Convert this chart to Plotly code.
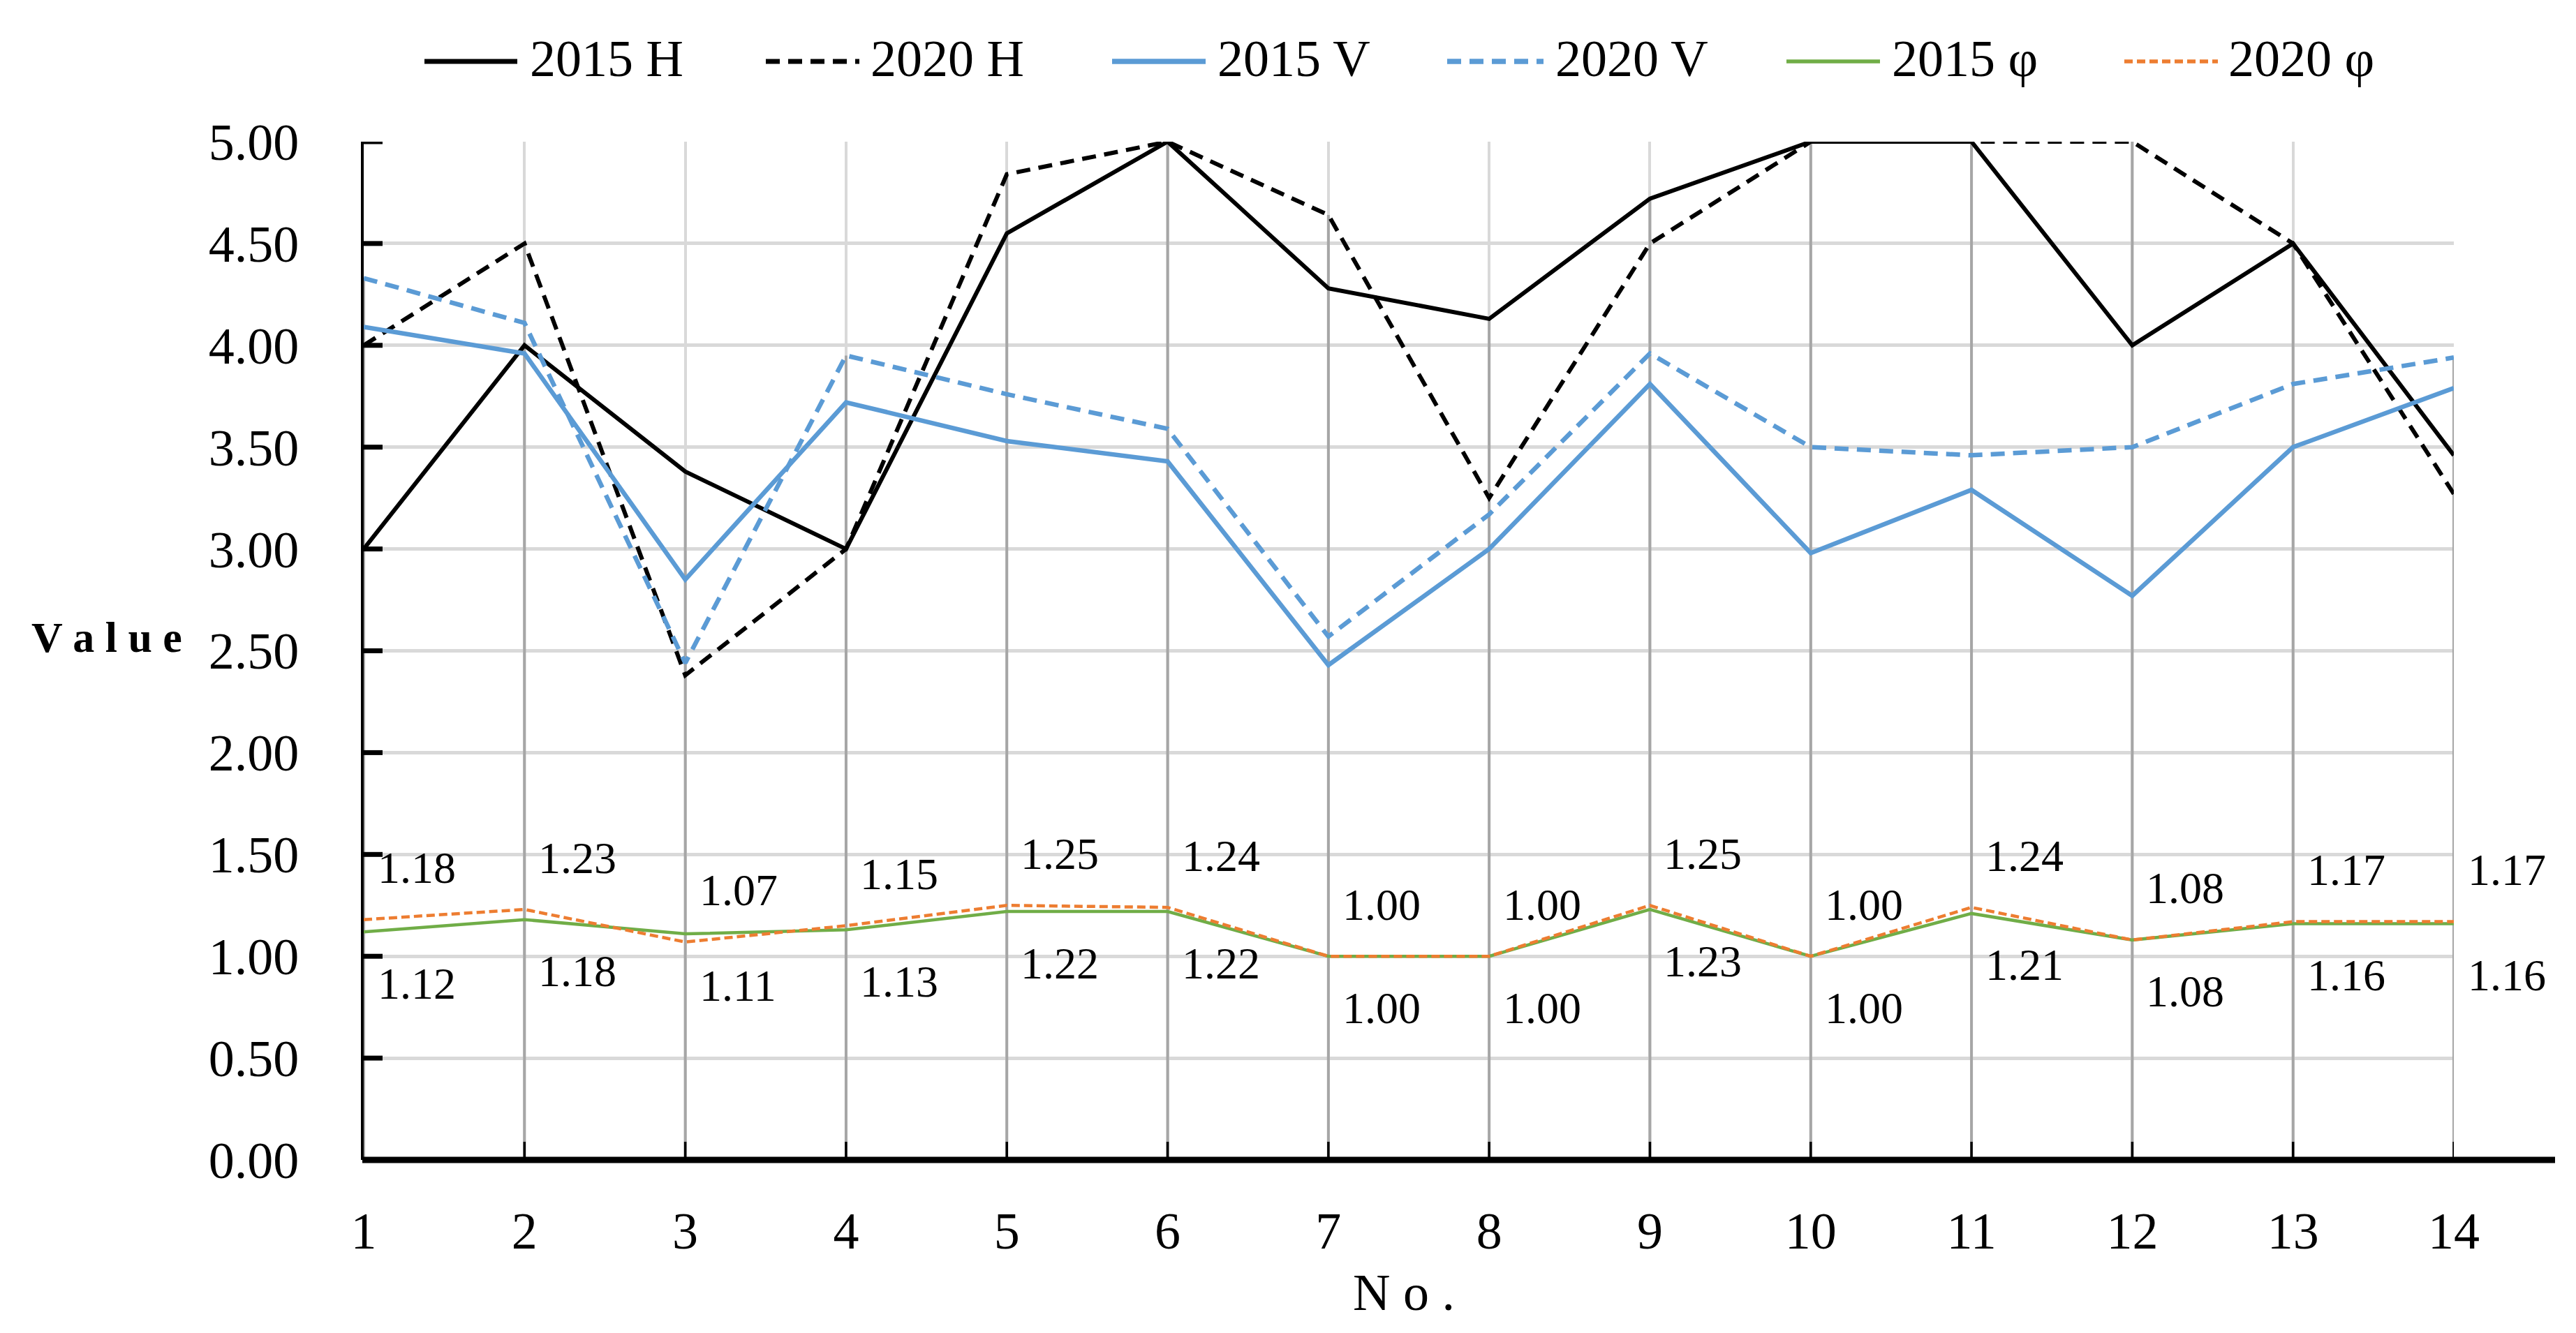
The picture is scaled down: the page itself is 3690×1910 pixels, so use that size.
import plotly.graph_objects as go

# ---------------- data ----------------
nos = list(range(1, 15))
h2015 = [3.00, 4.00, 3.38, 3.00, 4.55, 5.00, 4.28, 4.13, 4.72, 5.00, 5.00, 4.00, 4.50, 3.46]
h2020 = [4.00, 4.50, 2.38, 3.00, 4.84, 5.00, 4.64, 3.25, 4.50, 5.00, 5.00, 5.00, 4.50, 3.27]
v2015 = [4.09, 3.96, 2.85, 3.72, 3.53, 3.43, 2.43, 3.00, 3.81, 2.98, 3.29, 2.77, 3.50, 3.79]
v2020 = [4.33, 4.11, 2.44, 3.95, 3.76, 3.59, 2.57, 3.17, 3.96, 3.50, 3.46, 3.50, 3.81, 3.94]
phi2015 = [1.12, 1.18, 1.11, 1.13, 1.22, 1.22, 1.00, 1.00, 1.23, 1.00, 1.21, 1.08, 1.16, 1.16]
phi2020 = [1.18, 1.23, 1.07, 1.15, 1.25, 1.24, 1.00, 1.00, 1.25, 1.00, 1.24, 1.08, 1.17, 1.17]
y_ticks = [0, 0.5, 1, 1.5, 2, 2.5, 3, 3.5, 4, 4.5, 5]
series_names = ["2015 H", "2020 H", "2015 V", "2020 V", "2015 φ", "2020 φ"]

# ---------------- layout constants ----------------
W, H = 3690, 1910
L, R, T, B = 513, 3507, 195, 1654
FONT = "Liberation Serif"

def px(xp):
    return (xp - L) / (R - L)

def py(yp):
    return (B - yp) / (B - T)

styles = {
    "2015 H": dict(color="#000000", width=6, dash="solid"),
    "2020 H": dict(color="#000000", width=6, dash="20px,12px"),
    "2015 V": dict(color="#5B9BD5", width=6.5, dash="solid"),
    "2020 V": dict(color="#5B9BD5", width=6.5, dash="20px,12px"),
    "2015 φ": dict(color="#70AD47", width=4.5, dash="solid"),
    "2020 φ": dict(color="#ED7D31", width=4.5, dash="12px,6px"),
}
values = {
    "2015 H": h2015, "2020 H": h2020, "2015 V": v2015,
    "2020 V": v2020, "2015 φ": phi2015, "2020 φ": phi2020,
}

fig = go.Figure()

# drop lines (from axis up to the highest series value at each No.)
dx, dy = [], []
for i, n in enumerate(nos):
    top = max(values[s][i] for s in series_names)
    dx += [n, n, None]
    dy += [0, top, None]
fig.add_trace(go.Scatter(x=dx, y=dy, mode="lines", showlegend=False,
                         line=dict(color="#A6A6A6", width=4),
                         hoverinfo="skip", cliponaxis=False))

for s in series_names:
    st = styles[s]
    fig.add_trace(go.Scatter(x=nos, y=values[s], mode="lines", name=s,
                             showlegend=False, cliponaxis=False,
                             line=dict(color=st["color"], width=st["width"], dash=st["dash"])))

annotations = []
# data labels
for n, v in zip(nos, phi2020):
    annotations.append(dict(x=n, y=v, xref="x", yref="y", text=f"{v:.2f}",
                            showarrow=False, xanchor="left", yanchor="middle",
                            xshift=18, yshift=74,
                            font=dict(family=FONT, size=64, color="black")))
for n, v in zip(nos, phi2015):
    annotations.append(dict(x=n, y=v, xref="x", yref="y", text=f"{v:.2f}",
                            showarrow=False, xanchor="left", yanchor="middle",
                            xshift=18, yshift=-74,
                            font=dict(family=FONT, size=64, color="black")))

# axis titles
annotations.append(dict(x=px(145), y=py(905), xref="paper", yref="paper",
                        text="<b>V a l u e</b>", showarrow=False,
                        xanchor="center", yanchor="middle",
                        font=dict(family=FONT, size=62, color="black")))
annotations.append(dict(x=px(2003), y=py(1844), xref="paper", yref="paper",
                        text="N o .", showarrow=False,
                        xanchor="center", yanchor="middle",
                        font=dict(family=FONT, size=74, color="black")))

shapes = []
# horizontal axis line, extending beyond No. 14
shapes.append(dict(type="line", xref="paper", yref="paper",
                   x0=px(511), x1=px(3652), y0=0, y1=0,
                   line=dict(color="black", width=9), layer="above"))
# y tick stubs (inside the plot area)
for v in y_ticks[1:]:
    shapes.append(dict(type="line", xref="paper", yref="y",
                       x0=0, x1=px(540), y0=v, y1=v,
                       line=dict(color="black", width=7), layer="above"))
# x tick stubs (upward from the axis)
for n in nos[1:]:
    shapes.append(dict(type="line", xref="x", yref="paper",
                       x0=n, x1=n, y0=0, y1=py(B - 26),
                       line=dict(color="black", width=3.5), layer="above"))

# custom legend
leg_line = [(600, 733), (1089, 1223), (1585, 1719), (2065, 2203), (2551, 2685), (3035, 3169)]
leg_text = [749, 1237, 1734, 2218, 2700, 3182]
leg_y = 80
for s, (a, b), t in zip(series_names, leg_line, leg_text):
    st = styles[s]
    shapes.append(dict(type="line", xref="paper", yref="paper",
                       x0=px(a), x1=px(b), y0=py(leg_y), y1=py(leg_y),
                       line=dict(color=st["color"], width=st["width"] + 1, dash=st["dash"])))
    annotations.append(dict(x=px(t), y=py(leg_y - 4), xref="paper", yref="paper",
                            text=s, showarrow=False, xanchor="left", yanchor="middle",
                            font=dict(family=FONT, size=74, color="black")))

fig.update_layout(
    width=W, height=H,
    margin=dict(l=L, r=W - R, t=T, b=H - B, pad=0),
    paper_bgcolor="white", plot_bgcolor="white",
    showlegend=False,
    annotations=annotations,
    shapes=shapes,
    font=dict(family=FONT, size=74, color="black"),
)
fig.update_xaxes(
    range=[1, 14], tickmode="array", tickvals=nos, ticktext=[str(n) for n in nos],
    showgrid=True, gridcolor="#D9D9D9", gridwidth=3.5,
    showline=False,
    ticks="", 
    ticklabelstandoff=52,
    tickfont=dict(family=FONT, size=74, color="black"),
    zeroline=False, fixedrange=True,
)
fig.update_yaxes(
    range=[0, 5], tickmode="array", tickvals=y_ticks,
    ticktext=[f"{v:.2f}" for v in y_ticks],
    showgrid=True, gridcolor="#D9D9D9", gridwidth=4.5,
    showline=True, linecolor="black", linewidth=4,
    ticks="",
    ticklabelstandoff=74,
    tickfont=dict(family=FONT, size=74, color="black"),
    zeroline=False, fixedrange=True,
)

fig.write_html("out.html")
